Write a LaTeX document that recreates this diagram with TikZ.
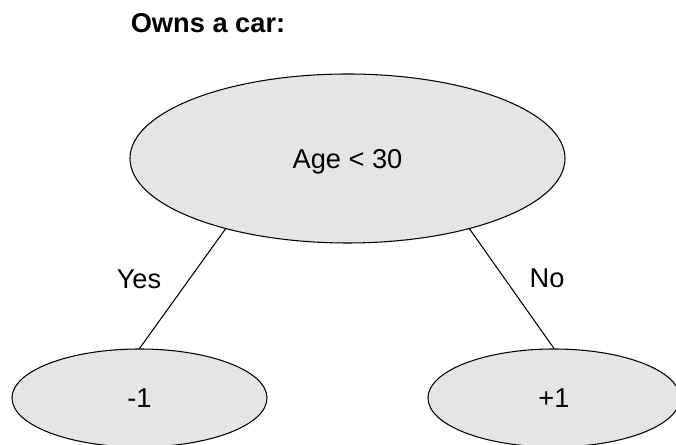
\documentclass[tikz,border=0pt]{standalone}
\usepackage{fontspec}
\setmainfont{Liberation Sans}
\usetikzlibrary{shapes.geometric}

\tikzset{
    leaf/.style={ellipse, draw=black, fill=black!10, line width=0.6pt, inner sep=0pt,
        font=\fontsize{15.5}{18}\selectfont},
    branch/.style={black, line width=0.6pt},
}

\begin{document}
\begin{tikzpicture}
    \useasboundingbox (0,0) rectangle (13.52,8.9);
    % The question and the two answers.
        \node[leaf, minimum width=8.7cm, minimum height=3.38cm, text depth=0pt] (age) at (6.95,5.73) {Age < 30};
        \node[leaf, minimum width=5.1cm, minimum height=1.96cm] (neg) at (2.79,0.94) {-1};
        \node[leaf, minimum width=5.04cm, minimum height=1.96cm] (pos) at (11.08,0.94) {+1};
    % Branches from the question down to the answers.
        \draw[branch] (age.210) -- (neg.90);
        \draw[branch] (age.330) -- (pos.90);
    % Below nodes are the labels.
        \node[font=\fontsize{15.5}{18}\selectfont\bfseries] (title) at (4.16,8.44) {Owns a car:};
        \node[font=\fontsize{15.5}{18}\selectfont] (yes) at (2.78,3.32) {Yes};
        \node[font=\fontsize{15.5}{18}\selectfont] (no) at (10.94,3.34) {No};
\end{tikzpicture}
\end{document}
